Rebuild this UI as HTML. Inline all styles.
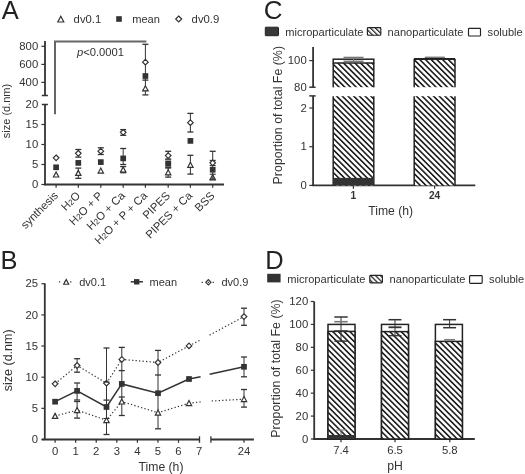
<!DOCTYPE html>
<html><head><meta charset="utf-8"><style>
html,body{margin:0;padding:0;background:#fff;}
svg{display:block;font-family:"Liberation Sans",sans-serif;filter:blur(0.35px);}
</style></head><body>
<svg width="525" height="474" viewBox="0 0 525 474">
<defs>
<pattern id="hatch" patternUnits="userSpaceOnUse" width="4.03" height="4.03" patternTransform="rotate(-45)">
<rect width="4.03" height="4.03" fill="#fff"/><rect x="0" y="0" width="1.65" height="4.03" fill="#222"/>
</pattern>
<pattern id="hatchs" patternUnits="userSpaceOnUse" width="3.5" height="3.5" patternTransform="rotate(-45)">
<rect width="3.5" height="3.5" fill="#fff"/><rect x="0" y="0" width="1.25" height="3.5" fill="#222"/>
</pattern>
</defs>
<rect width="525" height="474" fill="#fff"/>
<text x="1.8" y="18.9" font-size="25.5" text-anchor="start" font-weight="normal" fill="#222" >A</text>
<polygon points="57.8,22.0 63.8,22.0 60.8,16.3" fill="#fff" stroke="#333" stroke-width="1.2"/>
<text x="73.6" y="23.1" font-size="11.3" text-anchor="start" font-weight="normal" fill="#333" >dv0.1</text>
<rect x="116.2" y="16.2" width="5.6" height="5.6" fill="#333"/>
<text x="132.2" y="23.1" font-size="11.1" text-anchor="start" font-weight="normal" fill="#333" >mean</text>
<polygon points="178.7,16.0 181.7,19 178.7,22.0 175.7,19" fill="#fff" stroke="#333" stroke-width="1.2"/>
<text x="191.6" y="23.1" font-size="11.3" text-anchor="start" font-weight="normal" fill="#333" >dv0.9</text>
<line x1="45" y1="41" x2="45" y2="95.5" stroke="#333" stroke-width="1.8" />
<line x1="41.8" y1="95.5" x2="47.9" y2="95.5" stroke="#333" stroke-width="1.5" />
<line x1="41.4" y1="46.3" x2="45" y2="46.3" stroke="#333" stroke-width="1.2" />
<text x="38.2" y="49.8" font-size="11.3" text-anchor="end" font-weight="normal" fill="#333" >800</text>
<line x1="41.4" y1="64.4" x2="45" y2="64.4" stroke="#333" stroke-width="1.2" />
<text x="38.2" y="67.9" font-size="11.3" text-anchor="end" font-weight="normal" fill="#333" >600</text>
<line x1="41.4" y1="82.4" x2="45" y2="82.4" stroke="#333" stroke-width="1.2" />
<text x="38.2" y="85.9" font-size="11.3" text-anchor="end" font-weight="normal" fill="#333" >400</text>
<line x1="45" y1="104.5" x2="45" y2="185.2" stroke="#333" stroke-width="1.8" />
<line x1="41.8" y1="104.5" x2="47.9" y2="104.5" stroke="#333" stroke-width="1.5" />
<text x="38.2" y="108.0" font-size="11.3" text-anchor="end" font-weight="normal" fill="#333" >20</text>
<line x1="41.4" y1="124.5" x2="45" y2="124.5" stroke="#333" stroke-width="1.2" />
<text x="38.2" y="128.0" font-size="11.3" text-anchor="end" font-weight="normal" fill="#333" >15</text>
<line x1="41.4" y1="144.5" x2="45" y2="144.5" stroke="#333" stroke-width="1.2" />
<text x="38.2" y="148.0" font-size="11.3" text-anchor="end" font-weight="normal" fill="#333" >10</text>
<line x1="41.4" y1="164.5" x2="45" y2="164.5" stroke="#333" stroke-width="1.2" />
<text x="38.2" y="168.0" font-size="11.3" text-anchor="end" font-weight="normal" fill="#333" >5</text>
<text x="38.2" y="188.0" font-size="11.3" text-anchor="end" font-weight="normal" fill="#333" >0</text>
<line x1="41.4" y1="184.5" x2="45" y2="184.5" stroke="#333" stroke-width="1.2" />
<line x1="44.1" y1="184.5" x2="224" y2="184.5" stroke="#333" stroke-width="1.8" />
<line x1="56.1" y1="184.5" x2="56.1" y2="187.8" stroke="#333" stroke-width="1.2" />
<line x1="78.3" y1="184.5" x2="78.3" y2="187.8" stroke="#333" stroke-width="1.2" />
<line x1="100.8" y1="184.5" x2="100.8" y2="187.8" stroke="#333" stroke-width="1.2" />
<line x1="123.2" y1="184.5" x2="123.2" y2="187.8" stroke="#333" stroke-width="1.2" />
<line x1="145.4" y1="184.5" x2="145.4" y2="187.8" stroke="#333" stroke-width="1.2" />
<line x1="168.2" y1="184.5" x2="168.2" y2="187.8" stroke="#333" stroke-width="1.2" />
<line x1="190.4" y1="184.5" x2="190.4" y2="187.8" stroke="#333" stroke-width="1.2" />
<line x1="212.7" y1="184.5" x2="212.7" y2="187.8" stroke="#333" stroke-width="1.2" />
<text x="0" y="0" font-size="11" text-anchor="middle" font-weight="normal" fill="#333" transform="translate(10.4,111.0) rotate(-90)">size (d.nm)</text>
<path d="M55,114.2 V41.6 H146.4" fill="none" stroke="#666" stroke-width="2"/>
<text x="77" y="55.9" font-size="11.2" text-anchor="start" font-weight="normal" fill="#333" ><tspan font-style="italic">p</tspan>&lt;0.0001</text>
<polygon points="56.1,155.0 58.9,157.8 56.1,160.60000000000002 53.300000000000004,157.8" fill="#fff" stroke="#333" stroke-width="1.2"/>
<rect x="53.25" y="164.45000000000002" width="5.7" height="5.7" fill="#333"/>
<polygon points="53.45,176.98499999999999 58.75,176.98499999999999 56.1,171.95" fill="#fff" stroke="#333" stroke-width="1.2"/>
<line x1="78.3" y1="149.5" x2="78.3" y2="157.1" stroke="#333" stroke-width="1.0" />
<line x1="75.3" y1="149.5" x2="81.3" y2="149.5" stroke="#333" stroke-width="1.3" />
<line x1="75.3" y1="157.1" x2="81.3" y2="157.1" stroke="#333" stroke-width="1.3" />
<polygon points="78.3,150.5 81.1,153.3 78.3,156.10000000000002 75.5,153.3" fill="#fff" stroke="#333" stroke-width="1.2"/>
<rect x="75.45" y="160.05" width="5.7" height="5.7" fill="#333"/>
<line x1="78.3" y1="168.1" x2="78.3" y2="178.3" stroke="#333" stroke-width="1.0" />
<line x1="75.3" y1="168.1" x2="81.3" y2="168.1" stroke="#333" stroke-width="1.3" />
<line x1="75.3" y1="178.3" x2="81.3" y2="178.3" stroke="#333" stroke-width="1.3" />
<polygon points="75.64999999999999,175.385 80.95,175.385 78.3,170.35" fill="#fff" stroke="#333" stroke-width="1.2"/>
<line x1="100.8" y1="147.8" x2="100.8" y2="154.5" stroke="#333" stroke-width="1.0" />
<line x1="97.8" y1="147.8" x2="103.8" y2="147.8" stroke="#333" stroke-width="1.3" />
<line x1="97.8" y1="154.5" x2="103.8" y2="154.5" stroke="#333" stroke-width="1.3" />
<polygon points="100.8,148.39999999999998 103.6,151.2 100.8,154.0 98.0,151.2" fill="#fff" stroke="#333" stroke-width="1.2"/>
<rect x="97.95" y="159.25" width="5.7" height="5.7" fill="#333"/>
<polygon points="98.14999999999999,173.08499999999998 103.45,173.08499999999998 100.8,168.04999999999998" fill="#fff" stroke="#333" stroke-width="1.2"/>
<line x1="123.2" y1="129.6" x2="123.2" y2="135.3" stroke="#333" stroke-width="1.0" />
<line x1="120.2" y1="129.6" x2="126.2" y2="129.6" stroke="#333" stroke-width="1.3" />
<line x1="120.2" y1="135.3" x2="126.2" y2="135.3" stroke="#333" stroke-width="1.3" />
<polygon points="123.2,129.5 126.0,132.3 123.2,135.10000000000002 120.4,132.3" fill="#fff" stroke="#333" stroke-width="1.2"/>
<line x1="123.2" y1="148.5" x2="123.2" y2="164.5" stroke="#333" stroke-width="1.0" />
<line x1="120.2" y1="148.5" x2="126.2" y2="148.5" stroke="#333" stroke-width="1.3" />
<line x1="120.2" y1="164.5" x2="126.2" y2="164.5" stroke="#333" stroke-width="1.3" />
<rect x="120.35000000000001" y="155.55" width="5.7" height="5.7" fill="#333"/>
<line x1="123.2" y1="166.6" x2="123.2" y2="172.7" stroke="#333" stroke-width="1.0" />
<line x1="120.2" y1="166.6" x2="126.2" y2="166.6" stroke="#333" stroke-width="1.3" />
<line x1="120.2" y1="172.7" x2="126.2" y2="172.7" stroke="#333" stroke-width="1.3" />
<polygon points="120.55,171.98499999999999 125.85000000000001,171.98499999999999 123.2,166.95" fill="#fff" stroke="#333" stroke-width="1.2"/>
<line x1="145.4" y1="44.3" x2="145.4" y2="94.9" stroke="#333" stroke-width="1.0" />
<line x1="142.4" y1="44.3" x2="148.4" y2="44.3" stroke="#333" stroke-width="1.3" />
<line x1="142.4" y1="94.9" x2="148.4" y2="94.9" stroke="#333" stroke-width="1.3" />
<line x1="142.4" y1="80.1" x2="148.4" y2="80.1" stroke="#333" stroke-width="1.3" />
<line x1="142.4" y1="90.4" x2="148.4" y2="90.4" stroke="#333" stroke-width="1.3" />
<polygon points="145.4,59.400000000000006 148.20000000000002,62.2 145.4,65.0 142.6,62.2" fill="#fff" stroke="#333" stroke-width="1.2"/>
<rect x="142.55" y="73.15" width="5.7" height="5.7" fill="#333"/>
<polygon points="142.75,90.78500000000001 148.05,90.78500000000001 145.4,85.75" fill="#fff" stroke="#333" stroke-width="1.2"/>
<line x1="168.2" y1="151.3" x2="168.2" y2="159.0" stroke="#333" stroke-width="1.0" />
<line x1="165.2" y1="151.3" x2="171.2" y2="151.3" stroke="#333" stroke-width="1.3" />
<line x1="165.2" y1="159.0" x2="171.2" y2="159.0" stroke="#333" stroke-width="1.3" />
<polygon points="168.2,152.79999999999998 171.0,155.6 168.2,158.4 165.39999999999998,155.6" fill="#fff" stroke="#333" stroke-width="1.2"/>
<rect x="165.25" y="160.85000000000002" width="5.9" height="5.9" fill="#333"/>
<line x1="165.2" y1="159.9" x2="171.2" y2="159.9" stroke="#333" stroke-width="1.0" />
<line x1="165.2" y1="167.6" x2="171.2" y2="167.6" stroke="#333" stroke-width="1.0" />
<line x1="168.2" y1="168.0" x2="168.2" y2="177.1" stroke="#333" stroke-width="1.0" />
<line x1="165.2" y1="168.0" x2="171.2" y2="168.0" stroke="#333" stroke-width="1.3" />
<line x1="165.2" y1="177.1" x2="171.2" y2="177.1" stroke="#333" stroke-width="1.3" />
<polygon points="165.54999999999998,174.785 170.85,174.785 168.2,169.75" fill="#fff" stroke="#333" stroke-width="1.2"/>
<line x1="190.4" y1="113.4" x2="190.4" y2="132.0" stroke="#333" stroke-width="1.0" />
<line x1="187.4" y1="113.4" x2="193.4" y2="113.4" stroke="#333" stroke-width="1.3" />
<line x1="187.4" y1="132.0" x2="193.4" y2="132.0" stroke="#333" stroke-width="1.3" />
<polygon points="190.4,119.9 193.20000000000002,122.7 190.4,125.5 187.6,122.7" fill="#fff" stroke="#333" stroke-width="1.2"/>
<rect x="187.55" y="138.05" width="5.7" height="5.7" fill="#333"/>
<line x1="190.4" y1="155.3" x2="190.4" y2="174.1" stroke="#333" stroke-width="1.0" />
<line x1="187.4" y1="155.3" x2="193.4" y2="155.3" stroke="#333" stroke-width="1.3" />
<line x1="187.4" y1="174.1" x2="193.4" y2="174.1" stroke="#333" stroke-width="1.3" />
<polygon points="187.75,167.285 193.05,167.285 190.4,162.25" fill="#fff" stroke="#333" stroke-width="1.2"/>
<line x1="212.7" y1="151.3" x2="212.7" y2="179.8" stroke="#333" stroke-width="1.0" />
<line x1="209.7" y1="151.3" x2="215.7" y2="151.3" stroke="#333" stroke-width="1.3" />
<line x1="209.7" y1="179.8" x2="215.7" y2="179.8" stroke="#333" stroke-width="1.3" />
<polygon points="212.7,160.0 215.5,162.8 212.7,165.60000000000002 209.89999999999998,162.8" fill="#fff" stroke="#333" stroke-width="1.2"/>
<line x1="209.7" y1="160.4" x2="215.7" y2="160.4" stroke="#333" stroke-width="1.1" />
<line x1="209.7" y1="165.5" x2="215.7" y2="165.5" stroke="#333" stroke-width="1.1" />
<rect x="209.85" y="166.85" width="5.7" height="5.7" fill="#333"/>
<polygon points="210.04999999999998,179.685 215.35,179.685 212.7,174.65" fill="#fff" stroke="#333" stroke-width="1.2"/>
<polygon points="210.7,179.5 214.7,179.5 212.7,175.5" fill="#555"/>
<line x1="209.7" y1="174.2" x2="215.7" y2="174.2" stroke="#333" stroke-width="1.1" />
<text font-size="11.3" fill="#333" text-anchor="end" transform="translate(58.7,196.3) rotate(-45)">synthesis</text>
<text font-size="11.3" fill="#333" text-anchor="end" transform="translate(80.89999999999999,196.3) rotate(-45)">H<tspan font-size="8">2</tspan>O</text>
<text font-size="11.3" fill="#333" text-anchor="end" transform="translate(103.39999999999999,196.3) rotate(-45)">H<tspan font-size="8">2</tspan>O + P</text>
<text font-size="11.3" fill="#333" text-anchor="end" transform="translate(125.8,196.3) rotate(-45)">H<tspan font-size="8">2</tspan>O + Ca</text>
<text font-size="11.3" fill="#333" text-anchor="end" transform="translate(148.0,196.3) rotate(-45)">H<tspan font-size="8">2</tspan>O + P + Ca</text>
<text font-size="11.3" fill="#333" text-anchor="end" transform="translate(170.79999999999998,196.3) rotate(-45)">PIPES</text>
<text font-size="11.3" fill="#333" text-anchor="end" transform="translate(193.0,196.3) rotate(-45)">PIPES + Ca</text>
<text font-size="11.3" fill="#333" text-anchor="end" transform="translate(215.29999999999998,196.3) rotate(-45)">BSS</text>
<text x="0.4" y="269.1" font-size="25.5" text-anchor="start" font-weight="normal" fill="#222" >B</text>
<line x1="59.0" y1="281.8" x2="71.4" y2="281.8" stroke="#333" stroke-width="1.3" stroke-dasharray="1.2,4.4"/>
<polygon points="63.7,284.25 68.7,284.25 66.2,279.5" fill="#fff" stroke="#333" stroke-width="1.2"/>
<text x="79.2" y="286.3" font-size="11" text-anchor="start" font-weight="normal" fill="#333" >dv0.1</text>
<line x1="130.7" y1="281.8" x2="143.0" y2="281.8" stroke="#333" stroke-width="1.5" />
<rect x="134.0" y="279.1" width="5.4" height="5.4" fill="#333"/>
<text x="149.5" y="286.3" font-size="11" text-anchor="start" font-weight="normal" fill="#333" >mean</text>
<line x1="201.7" y1="282.3" x2="213.9" y2="282.3" stroke="#333" stroke-width="1.3" stroke-dasharray="1.2,4.3"/>
<polygon points="208.4,279.7 211.0,282.3 208.4,284.90000000000003 205.8,282.3" fill="#fff" stroke="#333" stroke-width="1.2"/>
<line x1="207.8" y1="282.3" x2="209.0" y2="282.3" stroke="#333" stroke-width="1.3" />
<text x="221.5" y="286.3" font-size="11" text-anchor="start" font-weight="normal" fill="#333" >dv0.9</text>
<line x1="44.8" y1="283.3" x2="44.8" y2="439.5" stroke="#333" stroke-width="1.8" />
<line x1="41.4" y1="439.5" x2="44.8" y2="439.5" stroke="#333" stroke-width="1.2" />
<text x="38.0" y="443.1" font-size="11.3" text-anchor="end" font-weight="normal" fill="#333" >0</text>
<line x1="41.4" y1="408.35" x2="44.8" y2="408.35" stroke="#333" stroke-width="1.2" />
<text x="38.0" y="411.95000000000005" font-size="11.3" text-anchor="end" font-weight="normal" fill="#333" >5</text>
<line x1="41.4" y1="377.2" x2="44.8" y2="377.2" stroke="#333" stroke-width="1.2" />
<text x="38.0" y="380.8" font-size="11.3" text-anchor="end" font-weight="normal" fill="#333" >10</text>
<line x1="41.4" y1="346.05" x2="44.8" y2="346.05" stroke="#333" stroke-width="1.2" />
<text x="38.0" y="349.65000000000003" font-size="11.3" text-anchor="end" font-weight="normal" fill="#333" >15</text>
<line x1="41.4" y1="314.9" x2="44.8" y2="314.9" stroke="#333" stroke-width="1.2" />
<text x="38.0" y="318.5" font-size="11.3" text-anchor="end" font-weight="normal" fill="#333" >20</text>
<line x1="41.4" y1="283.75" x2="44.8" y2="283.75" stroke="#333" stroke-width="1.2" />
<text x="38.0" y="287.35" font-size="11.3" text-anchor="end" font-weight="normal" fill="#333" >25</text>
<line x1="41.8" y1="439.5" x2="199.5" y2="439.5" stroke="#333" stroke-width="1.8" />
<line x1="199.5" y1="436.3" x2="199.5" y2="442.8" stroke="#333" stroke-width="1.3" />
<line x1="210.9" y1="439.5" x2="253.9" y2="439.5" stroke="#333" stroke-width="1.8" />
<line x1="210.9" y1="436.3" x2="210.9" y2="442.8" stroke="#333" stroke-width="1.3" />
<line x1="55.1" y1="439.5" x2="55.1" y2="442.8" stroke="#333" stroke-width="1.2" />
<text x="55.1" y="455" font-size="11.3" text-anchor="middle" font-weight="normal" fill="#333" >0</text>
<line x1="75.67" y1="439.5" x2="75.67" y2="442.8" stroke="#333" stroke-width="1.2" />
<text x="75.67" y="455" font-size="11.3" text-anchor="middle" font-weight="normal" fill="#333" >1</text>
<line x1="96.24000000000001" y1="439.5" x2="96.24000000000001" y2="442.8" stroke="#333" stroke-width="1.2" />
<text x="96.24000000000001" y="455" font-size="11.3" text-anchor="middle" font-weight="normal" fill="#333" >2</text>
<line x1="116.81" y1="439.5" x2="116.81" y2="442.8" stroke="#333" stroke-width="1.2" />
<text x="116.81" y="455" font-size="11.3" text-anchor="middle" font-weight="normal" fill="#333" >3</text>
<line x1="137.38" y1="439.5" x2="137.38" y2="442.8" stroke="#333" stroke-width="1.2" />
<text x="137.38" y="455" font-size="11.3" text-anchor="middle" font-weight="normal" fill="#333" >4</text>
<line x1="157.95" y1="439.5" x2="157.95" y2="442.8" stroke="#333" stroke-width="1.2" />
<text x="157.95" y="455" font-size="11.3" text-anchor="middle" font-weight="normal" fill="#333" >5</text>
<line x1="178.52" y1="439.5" x2="178.52" y2="442.8" stroke="#333" stroke-width="1.2" />
<text x="178.52" y="455" font-size="11.3" text-anchor="middle" font-weight="normal" fill="#333" >6</text>
<text x="199.09" y="455" font-size="11.3" text-anchor="middle" font-weight="normal" fill="#333" >7</text>
<line x1="244" y1="439.5" x2="244" y2="442.8" stroke="#333" stroke-width="1.2" />
<text x="244" y="455" font-size="11.3" text-anchor="middle" font-weight="normal" fill="#333" >24</text>
<text x="161" y="471" font-size="12.2" text-anchor="middle" font-weight="normal" fill="#333" >Time (h)</text>
<text x="0" y="0" font-size="12.5" text-anchor="middle" font-weight="normal" fill="#333" transform="translate(11.6,360.3) rotate(-90)">size (d.nm)</text>
<polyline points="55.1,383.8 77.1,365.5 106.5,383.2 121.8,359.4 158.0,362.5 189.0,345.9" fill="none" stroke="#333" stroke-width="1.2" stroke-dasharray="1.3,2.2"/>
<polyline points="55.1,401.7 77.1,390.9 106.5,407.0 121.8,383.9 158.0,393.2 189.0,379.0" fill="none" stroke="#333" stroke-width="1.5" />
<polyline points="55.1,416 77.1,410.2 106.5,420.2 121.8,401.6 158.0,412.7 189.0,403.2" fill="none" stroke="#333" stroke-width="1.2" stroke-dasharray="1.3,2.2"/>
<line x1="189.0" y1="345.9" x2="200.6" y2="339.9" stroke="#333" stroke-width="1.2" stroke-dasharray="1.3,2.2"/>
<line x1="209.6" y1="335.1" x2="244" y2="316.6" stroke="#333" stroke-width="1.2" stroke-dasharray="1.3,2.2"/>
<line x1="189.0" y1="379.0" x2="200.6" y2="376.8" stroke="#333" stroke-width="1.5" />
<line x1="209.6" y1="374.2" x2="244" y2="366.8" stroke="#333" stroke-width="1.5" />
<line x1="189.0" y1="403.2" x2="200.6" y2="401.9" stroke="#333" stroke-width="1.2" stroke-dasharray="1.3,2.2"/>
<line x1="211.7" y1="401" x2="244" y2="399.2" stroke="#333" stroke-width="1.2" stroke-dasharray="1.3,2.2"/>
<line x1="77.1" y1="358.7" x2="77.1" y2="372.2" stroke="#333" stroke-width="1.0" />
<line x1="74.1" y1="358.7" x2="80.1" y2="358.7" stroke="#333" stroke-width="1.3" />
<line x1="74.1" y1="372.2" x2="80.1" y2="372.2" stroke="#333" stroke-width="1.3" />
<line x1="77.1" y1="383.0" x2="77.1" y2="400.0" stroke="#333" stroke-width="1.0" />
<line x1="74.1" y1="383.0" x2="80.1" y2="383.0" stroke="#333" stroke-width="1.3" />
<line x1="74.1" y1="400.0" x2="80.1" y2="400.0" stroke="#333" stroke-width="1.3" />
<line x1="77.1" y1="401.5" x2="77.1" y2="418.1" stroke="#333" stroke-width="1.0" />
<line x1="74.1" y1="401.5" x2="80.1" y2="401.5" stroke="#333" stroke-width="1.3" />
<line x1="74.1" y1="418.1" x2="80.1" y2="418.1" stroke="#333" stroke-width="1.3" />
<line x1="106.5" y1="348.0" x2="106.5" y2="434.5" stroke="#333" stroke-width="1.0" />
<line x1="103.5" y1="348.0" x2="109.5" y2="348.0" stroke="#333" stroke-width="1.3" />
<line x1="103.5" y1="434.5" x2="109.5" y2="434.5" stroke="#333" stroke-width="1.3" />
<line x1="103.5" y1="400.1" x2="109.5" y2="400.1" stroke="#333" stroke-width="1.3" />
<line x1="121.8" y1="347.4" x2="121.8" y2="415.5" stroke="#333" stroke-width="1.0" />
<line x1="118.8" y1="347.4" x2="124.8" y2="347.4" stroke="#333" stroke-width="1.3" />
<line x1="118.8" y1="415.5" x2="124.8" y2="415.5" stroke="#333" stroke-width="1.3" />
<line x1="118.8" y1="370.6" x2="124.8" y2="370.6" stroke="#333" stroke-width="1.3" />
<line x1="118.8" y1="397.0" x2="124.8" y2="397.0" stroke="#333" stroke-width="1.3" />
<line x1="158.0" y1="350.4" x2="158.0" y2="428.8" stroke="#333" stroke-width="1.0" />
<line x1="155.0" y1="350.4" x2="161.0" y2="350.4" stroke="#333" stroke-width="1.3" />
<line x1="155.0" y1="428.8" x2="161.0" y2="428.8" stroke="#333" stroke-width="1.3" />
<line x1="155.0" y1="375" x2="161.0" y2="375" stroke="#333" stroke-width="1.3" />
<line x1="244.0" y1="308.2" x2="244.0" y2="325.3" stroke="#333" stroke-width="1.0" />
<line x1="241.0" y1="308.2" x2="247.0" y2="308.2" stroke="#333" stroke-width="1.3" />
<line x1="241.0" y1="325.3" x2="247.0" y2="325.3" stroke="#333" stroke-width="1.3" />
<line x1="244.0" y1="357.0" x2="244.0" y2="376.8" stroke="#333" stroke-width="1.0" />
<line x1="241.0" y1="357.0" x2="247.0" y2="357.0" stroke="#333" stroke-width="1.3" />
<line x1="241.0" y1="376.8" x2="247.0" y2="376.8" stroke="#333" stroke-width="1.3" />
<line x1="244.0" y1="389.5" x2="244.0" y2="407.1" stroke="#333" stroke-width="1.0" />
<line x1="241.0" y1="389.5" x2="247.0" y2="389.5" stroke="#333" stroke-width="1.3" />
<line x1="241.0" y1="407.1" x2="247.0" y2="407.1" stroke="#333" stroke-width="1.3" />
<polygon points="55.1,381.0 57.9,383.8 55.1,386.6 52.300000000000004,383.8" fill="#fff" stroke="#333" stroke-width="1.2"/>
<polygon points="77.1,362.7 79.89999999999999,365.5 77.1,368.3 74.3,365.5" fill="#fff" stroke="#333" stroke-width="1.2"/>
<polygon points="106.5,380.4 109.3,383.2 106.5,386.0 103.7,383.2" fill="#fff" stroke="#333" stroke-width="1.2"/>
<polygon points="121.8,356.59999999999997 124.6,359.4 121.8,362.2 119.0,359.4" fill="#fff" stroke="#333" stroke-width="1.2"/>
<polygon points="158.0,359.7 160.8,362.5 158.0,365.3 155.2,362.5" fill="#fff" stroke="#333" stroke-width="1.2"/>
<polygon points="189.0,343.09999999999997 191.8,345.9 189.0,348.7 186.2,345.9" fill="#fff" stroke="#333" stroke-width="1.2"/>
<polygon points="244.0,313.8 246.8,316.6 244.0,319.40000000000003 241.2,316.6" fill="#fff" stroke="#333" stroke-width="1.2"/>
<rect x="52.25" y="398.84999999999997" width="5.7" height="5.7" fill="#333"/>
<rect x="74.25" y="388.04999999999995" width="5.7" height="5.7" fill="#333"/>
<rect x="103.65" y="404.15" width="5.7" height="5.7" fill="#333"/>
<rect x="118.95" y="381.04999999999995" width="5.7" height="5.7" fill="#333"/>
<rect x="155.15" y="390.34999999999997" width="5.7" height="5.7" fill="#333"/>
<rect x="186.15" y="376.15" width="5.7" height="5.7" fill="#333"/>
<rect x="241.15" y="363.95" width="5.7" height="5.7" fill="#333"/>
<polygon points="52.45,418.385 57.75,418.385 55.1,413.35" fill="#fff" stroke="#333" stroke-width="1.2"/>
<polygon points="74.44999999999999,412.585 79.75,412.585 77.1,407.55" fill="#fff" stroke="#333" stroke-width="1.2"/>
<polygon points="103.85,422.585 109.15,422.585 106.5,417.55" fill="#fff" stroke="#333" stroke-width="1.2"/>
<polygon points="119.14999999999999,403.985 124.45,403.985 121.8,398.95000000000005" fill="#fff" stroke="#333" stroke-width="1.2"/>
<polygon points="155.35,415.085 160.65,415.085 158.0,410.05" fill="#fff" stroke="#333" stroke-width="1.2"/>
<polygon points="186.35,405.585 191.65,405.585 189.0,400.55" fill="#fff" stroke="#333" stroke-width="1.2"/>
<polygon points="241.35,401.585 246.65,401.585 244.0,396.55" fill="#fff" stroke="#333" stroke-width="1.2"/>
<line x1="103.5" y1="382.2" x2="109.5" y2="382.2" stroke="#333" stroke-width="1.0" />
<line x1="103.5" y1="418.5" x2="109.5" y2="418.5" stroke="#333" stroke-width="1.0" />
<text x="263.7" y="18.9" font-size="26" text-anchor="start" font-weight="normal" fill="#222" >C</text>
<rect x="265.3" y="27.2" width="13.2" height="8.5" fill="#383838" stroke="#222" stroke-width="1" rx="0.6"/>
<text x="285.2" y="35.7" font-size="11.1" text-anchor="start" font-weight="normal" fill="#333" >microparticulate</text>
<rect x="367.4" y="27.6" width="13.4" height="7.6" fill="url(#hatchs)" stroke="#222" stroke-width="1.15" rx="0.8"/>
<text x="387.6" y="35.7" font-size="11.1" text-anchor="start" font-weight="normal" fill="#333" >nanoparticulate</text>
<rect x="468.5" y="28.4" width="12" height="7.6" fill="#fff" stroke="#222" stroke-width="1.15" rx="0.8"/>
<text x="487.6" y="35.7" font-size="11.1" text-anchor="start" font-weight="normal" fill="#333" >soluble</text>
<line x1="313.1" y1="47.1" x2="313.1" y2="87.2" stroke="#333" stroke-width="1.8" />
<line x1="309.3" y1="87.2" x2="315.6" y2="87.2" stroke="#333" stroke-width="1.5" />
<line x1="309.3" y1="60.6" x2="313.1" y2="60.6" stroke="#333" stroke-width="1.2" />
<text x="306.7" y="64.3" font-size="11.3" text-anchor="end" font-weight="normal" fill="#333" >100</text>
<text x="306.7" y="90.9" font-size="11.3" text-anchor="end" font-weight="normal" fill="#333" >80</text>
<line x1="313.1" y1="95.9" x2="313.1" y2="186.1" stroke="#333" stroke-width="1.8" />
<line x1="309.3" y1="95.9" x2="315.6" y2="95.9" stroke="#333" stroke-width="1.5" />
<line x1="309.3" y1="108" x2="313.1" y2="108" stroke="#333" stroke-width="1.2" />
<text x="306.7" y="111.6" font-size="11.3" text-anchor="end" font-weight="normal" fill="#333" >2</text>
<line x1="309.3" y1="146.7" x2="313.1" y2="146.7" stroke="#333" stroke-width="1.2" />
<text x="306.7" y="150.29999999999998" font-size="11.3" text-anchor="end" font-weight="normal" fill="#333" >1</text>
<line x1="309.3" y1="185.4" x2="313.1" y2="185.4" stroke="#333" stroke-width="1.2" />
<text x="306.7" y="189.0" font-size="11.3" text-anchor="end" font-weight="normal" fill="#333" >0</text>
<line x1="312.20000000000005" y1="185.4" x2="475.3" y2="185.4" stroke="#333" stroke-width="1.8" />
<line x1="353.4" y1="185.4" x2="353.4" y2="188.8" stroke="#333" stroke-width="1.2" />
<text x="353.4" y="199.0" font-size="10.2" text-anchor="middle" font-weight="bold" fill="#333" >1</text>
<line x1="434.6" y1="185.4" x2="434.6" y2="188.8" stroke="#333" stroke-width="1.2" />
<text x="434.6" y="199.0" font-size="10.2" text-anchor="middle" font-weight="bold" fill="#333" >24</text>
<text x="390.7" y="215.1" font-size="12.2" text-anchor="middle" font-weight="normal" fill="#333" >Time (h)</text>
<text x="0" y="0" font-size="12.4" text-anchor="middle" font-weight="normal" fill="#333" transform="translate(281.9,115.2) rotate(-90)">Proportion of total Fe (%)</text>
<rect x="333.2" y="63" width="40.6" height="24.2" fill="url(#hatch)"/>
<line x1="333.2" y1="63" x2="333.2" y2="87.2" stroke="#222" stroke-width="1.5" />
<line x1="373.8" y1="63" x2="373.8" y2="87.2" stroke="#222" stroke-width="1.5" />
<rect x="333.2" y="59.2" width="40.6" height="3.8" fill="#fff" stroke="#222" stroke-width="1.5"/>
<rect x="333.2" y="96.2" width="40.6" height="89.2" fill="url(#hatch)"/>
<line x1="333.2" y1="96.2" x2="333.2" y2="185.4" stroke="#222" stroke-width="1.5" />
<line x1="373.8" y1="96.2" x2="373.8" y2="185.4" stroke="#222" stroke-width="1.5" />
<rect x="333.2" y="177.9" width="40.6" height="7.5" fill="#333"/>
<line x1="353.5" y1="57.3" x2="353.5" y2="62" stroke="#777" stroke-width="1.0" />
<line x1="343.5" y1="57.5" x2="363.5" y2="57.5" stroke="#777" stroke-width="1.6" />
<line x1="343.5" y1="61.4" x2="363.5" y2="61.4" stroke="#777" stroke-width="1.6" />
<rect x="414.2" y="58.8" width="40.8" height="28.4" fill="url(#hatch)"/>
<line x1="414.2" y1="58.8" x2="414.2" y2="87.19999999999999" stroke="#222" stroke-width="1.5" />
<line x1="455.0" y1="58.8" x2="455.0" y2="87.19999999999999" stroke="#222" stroke-width="1.5" />
<line x1="414" y1="59" x2="455" y2="59" stroke="#222" stroke-width="2.0" />
<rect x="414.2" y="96.2" width="40.8" height="89.2" fill="url(#hatch)"/>
<line x1="414.2" y1="96.2" x2="414.2" y2="185.4" stroke="#222" stroke-width="1.5" />
<line x1="455.0" y1="96.2" x2="455.0" y2="185.4" stroke="#222" stroke-width="1.5" />
<line x1="424.8" y1="57.3" x2="444.8" y2="57.3" stroke="#777" stroke-width="1.4" />
<text x="265.3" y="269.0" font-size="25.5" text-anchor="start" font-weight="normal" fill="#222" >D</text>
<rect x="267.2" y="273.8" width="13.4" height="8.6" fill="#333"/>
<text x="287.2" y="282.5" font-size="11.1" text-anchor="start" font-weight="normal" fill="#333" >microparticulate</text>
<rect x="369.8" y="275.4" width="12.6" height="7.4" fill="url(#hatchs)" stroke="#222" stroke-width="1.15" rx="0.8"/>
<text x="389.6" y="282.5" font-size="11.1" text-anchor="start" font-weight="normal" fill="#333" >nanoparticulate</text>
<rect x="469.6" y="275.6" width="12.6" height="7.8" fill="#fff" stroke="#222" stroke-width="1.15" rx="0.8"/>
<text x="489.1" y="282.5" font-size="11.1" text-anchor="start" font-weight="normal" fill="#333" >soluble</text>
<line x1="314.2" y1="301.5" x2="314.2" y2="439.8" stroke="#333" stroke-width="1.8" />
<line x1="310.8" y1="439.0" x2="314.2" y2="439.0" stroke="#333" stroke-width="1.2" />
<text x="308.2" y="442.5" font-size="11.3" text-anchor="end" font-weight="normal" fill="#333" >0</text>
<line x1="310.8" y1="416.084" x2="314.2" y2="416.084" stroke="#333" stroke-width="1.2" />
<text x="308.2" y="419.584" font-size="11.3" text-anchor="end" font-weight="normal" fill="#333" >20</text>
<line x1="310.8" y1="393.168" x2="314.2" y2="393.168" stroke="#333" stroke-width="1.2" />
<text x="308.2" y="396.668" font-size="11.3" text-anchor="end" font-weight="normal" fill="#333" >40</text>
<line x1="310.8" y1="370.252" x2="314.2" y2="370.252" stroke="#333" stroke-width="1.2" />
<text x="308.2" y="373.752" font-size="11.3" text-anchor="end" font-weight="normal" fill="#333" >60</text>
<line x1="310.8" y1="347.336" x2="314.2" y2="347.336" stroke="#333" stroke-width="1.2" />
<text x="308.2" y="350.836" font-size="11.3" text-anchor="end" font-weight="normal" fill="#333" >80</text>
<line x1="310.8" y1="324.42" x2="314.2" y2="324.42" stroke="#333" stroke-width="1.2" />
<text x="308.2" y="327.92" font-size="11.3" text-anchor="end" font-weight="normal" fill="#333" >100</text>
<line x1="310.8" y1="301.504" x2="314.2" y2="301.504" stroke="#333" stroke-width="1.2" />
<text x="308.2" y="305.004" font-size="11.3" text-anchor="end" font-weight="normal" fill="#333" >120</text>
<line x1="313.3" y1="439" x2="474.8" y2="439" stroke="#333" stroke-width="1.8" />
<line x1="341" y1="439" x2="341" y2="442.2" stroke="#333" stroke-width="1.2" />
<text x="341" y="454.2" font-size="11.3" text-anchor="middle" font-weight="normal" fill="#333" >7.4</text>
<line x1="395" y1="439" x2="395" y2="442.2" stroke="#333" stroke-width="1.2" />
<text x="395" y="454.2" font-size="11.3" text-anchor="middle" font-weight="normal" fill="#333" >6.5</text>
<line x1="449.8" y1="439" x2="449.8" y2="442.2" stroke="#333" stroke-width="1.2" />
<text x="449.8" y="454.2" font-size="11.3" text-anchor="middle" font-weight="normal" fill="#333" >5.8</text>
<text x="395" y="470.4" font-size="12.2" text-anchor="middle" font-weight="normal" fill="#333" >pH</text>
<text x="0" y="0" font-size="12.4" text-anchor="middle" font-weight="normal" fill="#333" transform="translate(280.2,368.5) rotate(-90)">Proportion of total Fe (%)</text>
<rect x="328" y="324.42" width="27" height="114.57999999999998" fill="#fff" stroke="#222" stroke-width="1.5"/>
<rect x="328" y="331.4" width="27" height="107.60000000000002" fill="url(#hatch)" stroke="#222" stroke-width="1.5"/>
<rect x="328" y="434.9897" width="27" height="4.010299999999972" fill="#333"/>
<rect x="381.5" y="324.42" width="27" height="114.57999999999998" fill="#fff" stroke="#222" stroke-width="1.5"/>
<rect x="381.5" y="331.6" width="27" height="107.39999999999998" fill="url(#hatch)" stroke="#222" stroke-width="1.5"/>
<rect x="435.4" y="324.42" width="27" height="114.57999999999998" fill="#fff" stroke="#222" stroke-width="1.5"/>
<rect x="435.4" y="341.4" width="27" height="97.60000000000002" fill="url(#hatch)" stroke="#222" stroke-width="1.5"/>
<line x1="341" y1="317" x2="341" y2="341" stroke="#333" stroke-width="1.0" />
<line x1="334.3" y1="317" x2="347.7" y2="317" stroke="#333" stroke-width="1.5" />
<line x1="334.3" y1="341.1" x2="347.7" y2="341.1" stroke="#333" stroke-width="1.5" />
<line x1="334.3" y1="321.7" x2="347.7" y2="321.7" stroke="#777" stroke-width="1.6" />
<line x1="334.3" y1="331" x2="347.7" y2="331" stroke="#333" stroke-width="1.5" />
<line x1="341" y1="430" x2="341" y2="435" stroke="#666" stroke-width="1.0" />
<line x1="336" y1="430" x2="346" y2="430" stroke="#888" stroke-width="1.2" />
<line x1="395" y1="319.7" x2="395" y2="335.7" stroke="#333" stroke-width="1.0" />
<line x1="388.5" y1="319.7" x2="401.5" y2="319.7" stroke="#333" stroke-width="1.5" />
<line x1="388.5" y1="327.3" x2="401.5" y2="327.3" stroke="#333" stroke-width="1.8" />
<line x1="388.5" y1="335.7" x2="401.5" y2="335.7" stroke="#333" stroke-width="1.3" />
<line x1="449.6" y1="319.7" x2="449.6" y2="327.7" stroke="#333" stroke-width="1.0" />
<line x1="443.1" y1="319.7" x2="456.1" y2="319.7" stroke="#333" stroke-width="1.5" />
<line x1="443.1" y1="327.7" x2="456.1" y2="327.7" stroke="#333" stroke-width="1.5" />
<line x1="444.1" y1="339.8" x2="455.1" y2="339.8" stroke="#777" stroke-width="1.5" />
</svg>
</body></html>
